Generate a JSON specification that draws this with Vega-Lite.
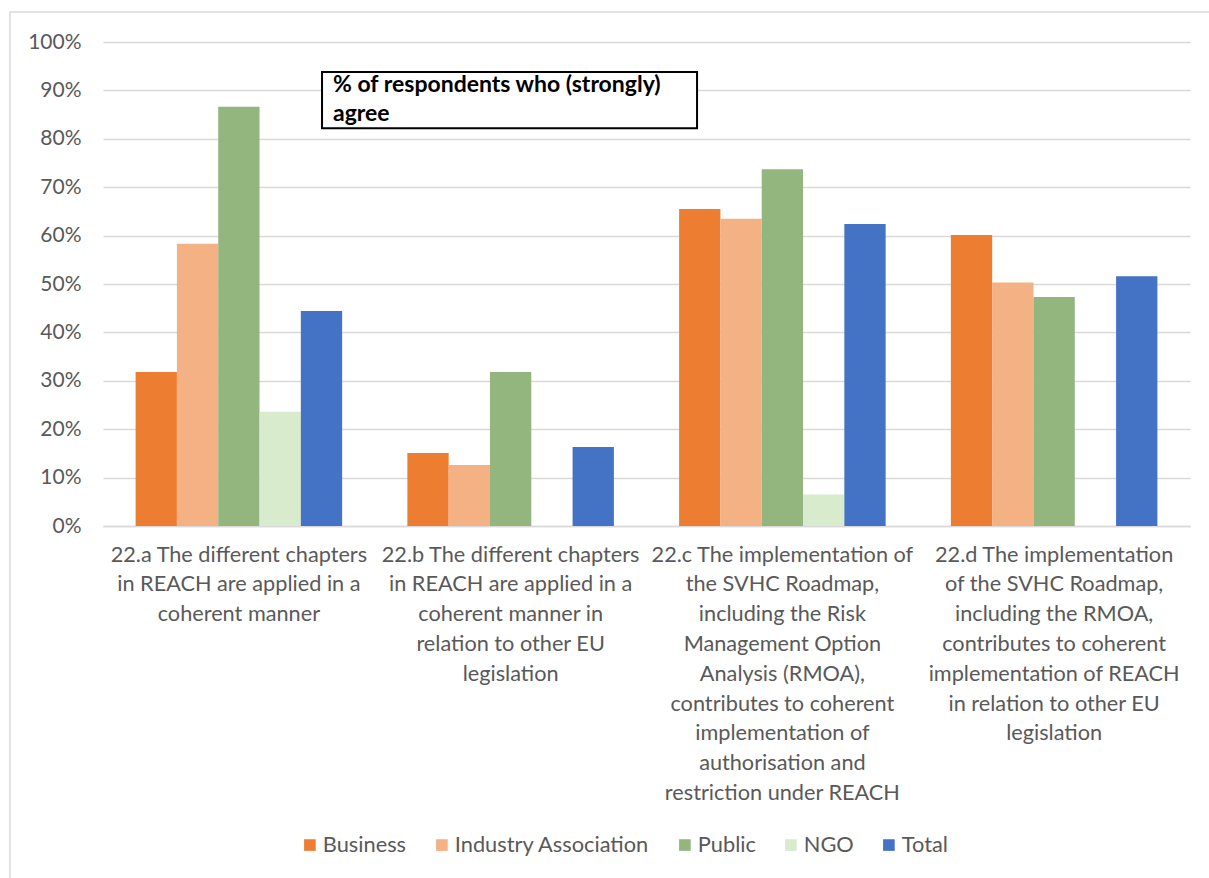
{
  "$schema": "https://vega.github.io/schema/vega-lite/v6.json",
  "width": 1087,
  "height": 484,
  "autosize": {"type": "none"},
  "padding": {"left": 103, "top": 42, "right": 19, "bottom": 352},
  "background": "white",
  "config": {
    "view": {"stroke": null},
    "font": "Lato",
    "text": {"font": "Lato"}
  },
  "layer": [
    {
      "data": {"values": [{"x": -0.0856, "x2": 1.03, "y": 1.062, "y2": -0.8}]},
      "mark": {"type": "rect", "fill": null, "stroke": "#d9d9d9", "strokeWidth": 1.5, "clip": false},
      "encoding": {
        "x": {"field": "x", "type": "quantitative", "scale": {"domain": [0, 1], "nice": false, "zero": false}, "axis": null},
        "x2": {"field": "x2"},
        "y": {
          "field": "y", "type": "quantitative", "scale": {"domain": [0, 1], "nice": false},
          "axis": {
            "title": null, "format": ".0%", "values": [0, 0.1, 0.2, 0.3, 0.4, 0.5, 0.6, 0.7, 0.8, 0.9, 1],
            "labelFontSize": 21, "labelColor": "#595959", "labelPadding": 22,
            "domain": false, "ticks": false, "gridColor": "#d9d9d9", "gridWidth": 1.3
          }
        },
        "y2": {"field": "y2"}
      }
    },
    {
      "data": {
        "values": [
          {"question": "22.a The different chapters|in REACH are applied in a|coherent manner", "group": "Business", "value": 0.318},
          {"question": "22.a The different chapters|in REACH are applied in a|coherent manner", "group": "Industry Association", "value": 0.583},
          {"question": "22.a The different chapters|in REACH are applied in a|coherent manner", "group": "Public", "value": 0.866},
          {"question": "22.a The different chapters|in REACH are applied in a|coherent manner", "group": "NGO", "value": 0.236},
          {"question": "22.a The different chapters|in REACH are applied in a|coherent manner", "group": "Total", "value": 0.444},
          {"question": "22.b The different chapters|in REACH are applied in a|coherent manner in|relation to other EU|legislation", "group": "Business", "value": 0.151},
          {"question": "22.b The different chapters|in REACH are applied in a|coherent manner in|relation to other EU|legislation", "group": "Industry Association", "value": 0.126},
          {"question": "22.b The different chapters|in REACH are applied in a|coherent manner in|relation to other EU|legislation", "group": "Public", "value": 0.318},
          {"question": "22.b The different chapters|in REACH are applied in a|coherent manner in|relation to other EU|legislation", "group": "NGO", "value": 0},
          {"question": "22.b The different chapters|in REACH are applied in a|coherent manner in|relation to other EU|legislation", "group": "Total", "value": 0.163},
          {"question": "22.c The implementation of|the SVHC Roadmap,|including the Risk|Management Option|Analysis (RMOA),|contributes to coherent|implementation of|authorisation and|restriction under REACH", "group": "Business", "value": 0.655},
          {"question": "22.c The implementation of|the SVHC Roadmap,|including the Risk|Management Option|Analysis (RMOA),|contributes to coherent|implementation of|authorisation and|restriction under REACH", "group": "Industry Association", "value": 0.635},
          {"question": "22.c The implementation of|the SVHC Roadmap,|including the Risk|Management Option|Analysis (RMOA),|contributes to coherent|implementation of|authorisation and|restriction under REACH", "group": "Public", "value": 0.737},
          {"question": "22.c The implementation of|the SVHC Roadmap,|including the Risk|Management Option|Analysis (RMOA),|contributes to coherent|implementation of|authorisation and|restriction under REACH", "group": "NGO", "value": 0.065},
          {"question": "22.c The implementation of|the SVHC Roadmap,|including the Risk|Management Option|Analysis (RMOA),|contributes to coherent|implementation of|authorisation and|restriction under REACH", "group": "Total", "value": 0.624},
          {"question": "22.d The implementation|of the SVHC Roadmap,|including the RMOA,|contributes to coherent|implementation of REACH|in relation to other EU|legislation", "group": "Business", "value": 0.601},
          {"question": "22.d The implementation|of the SVHC Roadmap,|including the RMOA,|contributes to coherent|implementation of REACH|in relation to other EU|legislation", "group": "Industry Association", "value": 0.503},
          {"question": "22.d The implementation|of the SVHC Roadmap,|including the RMOA,|contributes to coherent|implementation of REACH|in relation to other EU|legislation", "group": "Public", "value": 0.473},
          {"question": "22.d The implementation|of the SVHC Roadmap,|including the RMOA,|contributes to coherent|implementation of REACH|in relation to other EU|legislation", "group": "NGO", "value": 0},
          {"question": "22.d The implementation|of the SVHC Roadmap,|including the RMOA,|contributes to coherent|implementation of REACH|in relation to other EU|legislation", "group": "Total", "value": 0.516}
        ]
      },
      "mark": {"type": "bar"},
      "encoding": {
        "x": {
          "field": "question", "type": "nominal", "sort": null,
          "scale": {"paddingInner": 0.24, "paddingOuter": 0.12},
          "axis": {
            "title": null, "labelAngle": 0, "labelExpr": "split(datum.label, '|')",
            "labelFontSize": 21.7, "labelColor": "#595959", "labelLineHeight": 29.8,
            "labelPadding": 18, "labelLimit": 500, "ticks": false,
            "domainColor": "#d9d9d9", "domainWidth": 1.3, "grid": false
          }
        },
        "xOffset": {
          "field": "group", "type": "nominal",
          "sort": ["Business", "Industry Association", "Public", "NGO", "Total"],
          "scale": {"paddingInner": 0, "paddingOuter": 0}
        },
        "y": {
          "field": "value", "type": "quantitative",
          "scale": {"domain": [0, 1], "nice": false},
          "axis": {
            "title": null, "format": ".0%", "values": [0, 0.1, 0.2, 0.3, 0.4, 0.5, 0.6, 0.7, 0.8, 0.9, 1],
            "labelFontSize": 21, "labelColor": "#595959", "labelPadding": 22,
            "domain": false, "ticks": false, "gridColor": "#d9d9d9", "gridWidth": 1.3
          }
        },
        "color": {
          "field": "group", "type": "nominal",
          "sort": ["Business", "Industry Association", "Public", "NGO", "Total"],
          "scale": {
            "domain": ["Business", "Industry Association", "Public", "NGO", "Total"],
            "range": ["#ED7D31", "#F4B183", "#93B57E", "#D8EBCD", "#4472C4"]
          },
          "legend": {
            "title": null, "orient": "none", "direction": "horizontal",
            "legendX": 196, "legendY": 792,
            "labelFontSize": 21.8, "labelColor": "#595959", "labelLimit": 500,
            "symbolType": "square", "symbolSize": 135, "symbolStrokeWidth": 0,
            "columnPadding": 24, "labelOffset": 2
          }
        }
      }
    },
    {
      "data": {"values": [{"x": 0.2015, "x2": 0.5465, "y": 0.938, "y2": 0.822}]},
      "mark": {"type": "rect", "fill": "white", "stroke": "black", "strokeWidth": 2},
      "encoding": {
        "x": {"field": "x", "type": "quantitative", "scale": {"domain": [0, 1], "nice": false, "zero": false}, "axis": null},
        "x2": {"field": "x2"},
        "y": {
          "field": "y", "type": "quantitative", "scale": {"domain": [0, 1], "nice": false},
          "axis": {
            "title": null, "format": ".0%", "values": [0, 0.1, 0.2, 0.3, 0.4, 0.5, 0.6, 0.7, 0.8, 0.9, 1],
            "labelFontSize": 21, "labelColor": "#595959", "labelPadding": 22,
            "domain": false, "ticks": false, "gridColor": "#d9d9d9", "gridWidth": 1.3
          }
        },
        "y2": {"field": "y2"}
      }
    },
    {
      "data": {"values": [{"x": 0.2116, "y": 0.933, "label": "% of respondents who (strongly)|agree"}]},
      "mark": {"type": "text", "align": "left", "baseline": "top", "fontSize": 23, "fontWeight": "bold", "color": "black", "lineBreak": "|", "lineHeight": 29},
      "encoding": {
        "x": {"field": "x", "type": "quantitative", "scale": {"domain": [0, 1], "nice": false, "zero": false}, "axis": null},
        "y": {
          "field": "y", "type": "quantitative", "scale": {"domain": [0, 1], "nice": false},
          "axis": {
            "title": null, "format": ".0%", "values": [0, 0.1, 0.2, 0.3, 0.4, 0.5, 0.6, 0.7, 0.8, 0.9, 1],
            "labelFontSize": 21, "labelColor": "#595959", "labelPadding": 22,
            "domain": false, "ticks": false, "gridColor": "#d9d9d9", "gridWidth": 1.3
          }
        },
        "text": {"field": "label"}
      }
    }
  ],
  "resolve": {"scale": {"x": "independent"}}
}
